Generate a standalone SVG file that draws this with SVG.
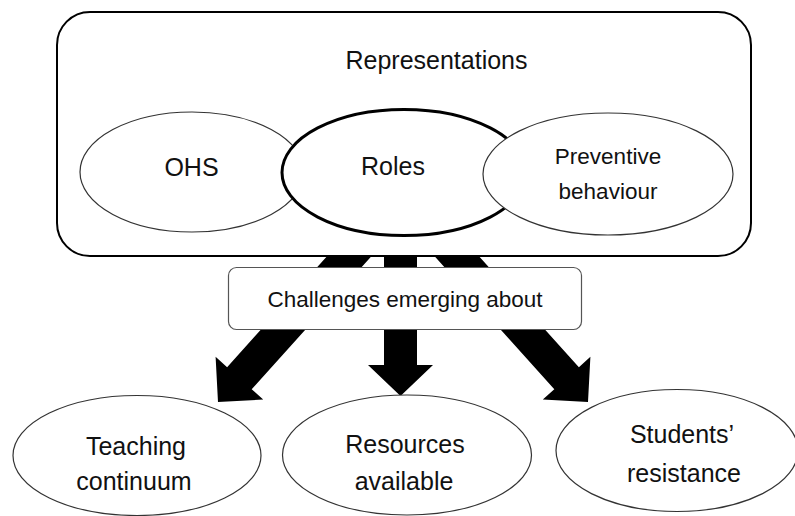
<svg xmlns="http://www.w3.org/2000/svg" width="795" height="516" viewBox="0 0 795 516">
<style>
.lbl{font-family:"Liberation Sans",Arial,sans-serif;font-size:25px;fill:#111;text-anchor:middle}
.sm{font-size:22.5px}
.thin{fill:#fff;stroke:#333;stroke-width:1.2}
.arrow{fill:#000;stroke:none}
</style>
<rect width="795" height="516" fill="#fff"/>
<g id="connectors">
<polygon class="arrow" points="218,402 263.2,399.6 251.7,389.2 385.5,240.6 360.9,218.6 227.1,367.2 215.6,356.8"/>
<polygon class="arrow" points="384,220 417,220 417,365 433,365 400.5,396 368,365 384,365"/>
<polygon class="arrow" points="588,402 590.4,356.8 578.9,367.2 445.1,218.6 420.5,240.6 554.3,389.2 542.8,399.6"/>
</g>
<g id="representations">
<rect x="57" y="12" width="694" height="244" rx="33" ry="33" fill="#fff" stroke="#000" stroke-width="2"/>
<text class="lbl" x="436.5" y="69">Representations</text>
</g>
<g id="ohs">
<ellipse class="thin" cx="192" cy="172" rx="112" ry="60"/>
<text class="lbl" x="191.5" y="176">OHS</text>
</g>
<g id="roles">
<ellipse cx="404" cy="172.5" rx="122" ry="63" fill="#fff" stroke="#000" stroke-width="3"/>
<text class="lbl" x="393" y="175">Roles</text>
</g>
<g id="preventive">
<ellipse class="thin" cx="608" cy="174" rx="125" ry="61"/>
<text class="lbl sm" x="608" y="164">Preventive</text>
<text class="lbl sm" x="608" y="199">behaviour</text>
</g>
<g id="challenges">
<rect x="228.5" y="267.5" width="353" height="62" rx="8" ry="8" fill="#fff" stroke="#555" stroke-width="1.2"/>
<text class="lbl sm" x="405" y="306.5">Challenges emerging about</text>
</g>
<g id="teaching">
<ellipse class="thin" cx="137" cy="455.5" rx="124" ry="60"/>
<text class="lbl" x="136" y="455">Teaching</text>
<text class="lbl" x="134" y="490">continuum</text>
</g>
<g id="resources">
<ellipse class="thin" cx="407" cy="455" rx="124.5" ry="60"/>
<text class="lbl" x="405" y="453">Resources</text>
<text class="lbl" x="404" y="490">available</text>
</g>
<g id="students">
<ellipse class="thin" cx="677" cy="450.5" rx="121" ry="61"/>
<text class="lbl" x="682" y="443">Students’</text>
<text class="lbl" x="684" y="482">resistance</text>
</g>
</svg>
